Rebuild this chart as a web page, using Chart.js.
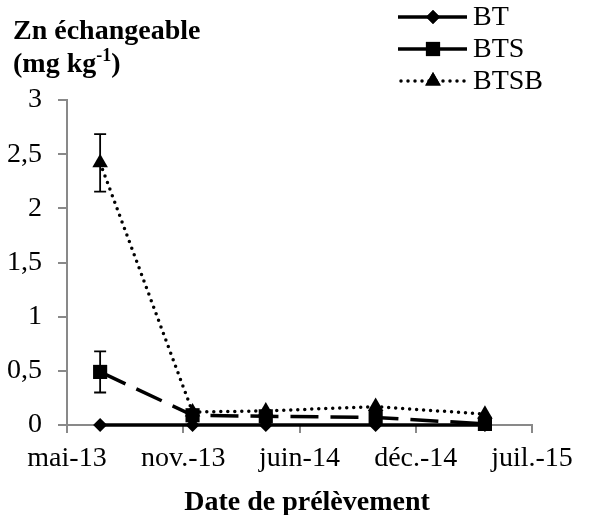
<!DOCTYPE html>
<html lang="fr">
<head>
<meta charset="utf-8">
<title>Zn échangeable</title>
<script src="https://cdn.jsdelivr.net/npm/chart.js"></script>
<style>
    html, body { margin: 0; padding: 0; background: #fff; }
    #wrap { width: 599px; height: 515px; }
</style>
</head>
<body>
<div id="wrap"><canvas id="znChart" width="599" height="515"></canvas></div>
<script>
// Données (jours depuis le 1er mai 2013)
const sampleDays = [57, 216, 342, 531, 719];
const seriesNames = ['BT', 'BTS', 'BTSB'];
const btValues = [0, 0, 0, 0, 0];
const btsValues = [0.49, 0.09, 0.08, 0.07, 0.01];
const btsbValues = [2.42, 0.12, 0.13, 0.17, 0.10];
const btErrors = [0, 0, 0, 0, 0];
const btsErrors = [0.19, 0, 0, 0, 0];
const btsbErrors = [0.265, 0, 0, 0, 0];
const xTickLabels = ['mai-13', 'nov.-13', 'juin-14', 'déc.-14', 'juil.-15'];
const yTickLabels = ['0', '0,5', '1', '1,5', '2', '2,5', '3'];

const FONT = '"Liberation Serif", "Times New Roman", serif';
const AXIS_GREY = '#898989';

Chart.defaults.font.family = FONT;
Chart.defaults.color = '#000';

function toPoints(values) {
    return values.map((v, i) => ({ x: sampleDays[i], y: v }));
}

// Barres d'erreur (style Excel)
const errorBarsPlugin = {
    id: 'errorBars',
    afterDatasetsDraw(chart) {
        const ctx = chart.ctx;
        const yScale = chart.scales.y;
        const xScale = chart.scales.x;
        chart.data.datasets.forEach(ds => {
            if (!ds.errors) return;
            ds.errors.forEach((err, i) => {
                if (!err) return;
                const px = xScale.getPixelForValue(sampleDays[i]);
                const top = yScale.getPixelForValue(ds.data[i].y + err);
                const bottom = yScale.getPixelForValue(ds.data[i].y - err);
                ctx.save();
                ctx.strokeStyle = '#000';
                ctx.lineWidth = 1.8;
                ctx.beginPath();
                ctx.moveTo(px, top);
                ctx.lineTo(px, bottom);
                ctx.moveTo(px - 6, top);
                ctx.lineTo(px + 6, top);
                ctx.moveTo(px - 6, bottom);
                ctx.lineTo(px + 6, bottom);
                ctx.stroke();
                ctx.restore();
            });
        });
    }
};

// Titres et légende dessinés à la main
const decorPlugin = {
    id: 'decor',
    afterDraw(chart) {
        const ctx = chart.ctx;
        ctx.save();
        ctx.fillStyle = '#000';
        ctx.textBaseline = 'alphabetic';
        ctx.textAlign = 'left';

        // Titre axe Y
        ctx.font = 'bold 28px ' + FONT;
        ctx.fillText('Zn échangeable', 13, 39);
        let x = 13;
        ctx.fillText('(mg kg', x, 72);
        x += ctx.measureText('(mg kg').width;
        ctx.font = 'bold 18px ' + FONT;
        ctx.fillText('-1', x, 61);
        x += ctx.measureText('-1').width;
        ctx.font = 'bold 28px ' + FONT;
        ctx.fillText(')', x, 72);

        // Titre axe X
        ctx.textAlign = 'center';
        ctx.fillText('Date de prélèvement', 307, 510);

        // Légende
        const legendY = [17, 49, 81];
        const legendDash = [[], [], [0, 7]];
        chart.data.datasets.forEach((ds, i) => {
            const y = legendY[i];
            ctx.strokeStyle = '#000';
            ctx.lineWidth = ds.borderWidth;
            ctx.lineCap = i === 2 ? 'round' : 'butt';
            ctx.setLineDash(legendDash[i]);
            ctx.beginPath();
            ctx.moveTo(i === 2 ? 401 : 398, y);
            ctx.lineTo(467, y);
            ctx.stroke();
            ctx.setLineDash([]);
            Chart.helpers.drawPoint(ctx, {
                pointStyle: ds.pointStyle,
                radius: ds.pointRadius,
                borderWidth: 0
            }, 433, y);
            ctx.fillStyle = '#000';
            ctx.fill();
            ctx.font = '28px ' + FONT;
            ctx.textAlign = 'left';
            ctx.textBaseline = 'middle';
            ctx.fillText(ds.label, 473, y + 1);
        });
        ctx.restore();
    }
};

function buildDataset(label, values, errors, style) {
    return Object.assign({
        label: label,
        data: toPoints(values),
        errors: errors,
        borderColor: '#000',
        backgroundColor: '#000',
        pointBackgroundColor: '#000',
        pointBorderWidth: 0,
        borderWidth: 3.5,
        tension: 0,
        clip: false
    }, style);
}

const datasets = [
    buildDataset(seriesNames[0], btValues, btErrors, { pointStyle: 'rectRot', pointRadius: 7 }),
    buildDataset(seriesNames[1], btsValues, btsErrors, { pointStyle: 'rect', pointRadius: 10, borderDash: [28, 12] }),
    buildDataset(seriesNames[2], btsbValues, btsbErrors, { pointStyle: 'triangle', pointRadius: 9, borderDash: [0, 7], borderCapStyle: 'round' })
];

new Chart(document.getElementById('znChart'), {
    type: 'line',
    data: { datasets: datasets },
    options: {
        responsive: false,
        animation: false,
        events: [],
        layout: { padding: { top: 100, right: 67, left: 0, bottom: 0 } },
        plugins: {
            legend: { display: false },
            tooltip: { enabled: false }
        },
        scales: {
            x: {
                type: 'linear',
                min: 0,
                max: 800,
                afterFit: s => { s.height = 90; },
                afterBuildTicks: s => { s.ticks = xTickLabels.map((_, i) => ({ value: i * 200 })); },
                ticks: {
                    font: { size: 28 },
                    padding: 9,
                    maxRotation: 0,
                    callback: (v, i) => xTickLabels[i]
                },
                grid: { drawOnChartArea: false, tickLength: 8, color: AXIS_GREY, lineWidth: 2 },
                border: { color: AXIS_GREY, width: 2 }
            },
            y: {
                min: 0,
                max: 3,
                afterFit: s => { s.width = 67; },
                afterBuildTicks: s => { s.ticks = yTickLabels.map((_, i) => ({ value: i * 0.5 })); },
                ticks: {
                    font: { size: 28 },
                    padding: 16,
                    callback: (v, i) => yTickLabels[i]
                },
                grid: { drawOnChartArea: false, tickLength: 9, color: AXIS_GREY, lineWidth: 2 },
                border: { color: AXIS_GREY, width: 2 }
            }
        }
    },
    plugins: [errorBarsPlugin, decorPlugin]
});
</script>
</body>
</html>
